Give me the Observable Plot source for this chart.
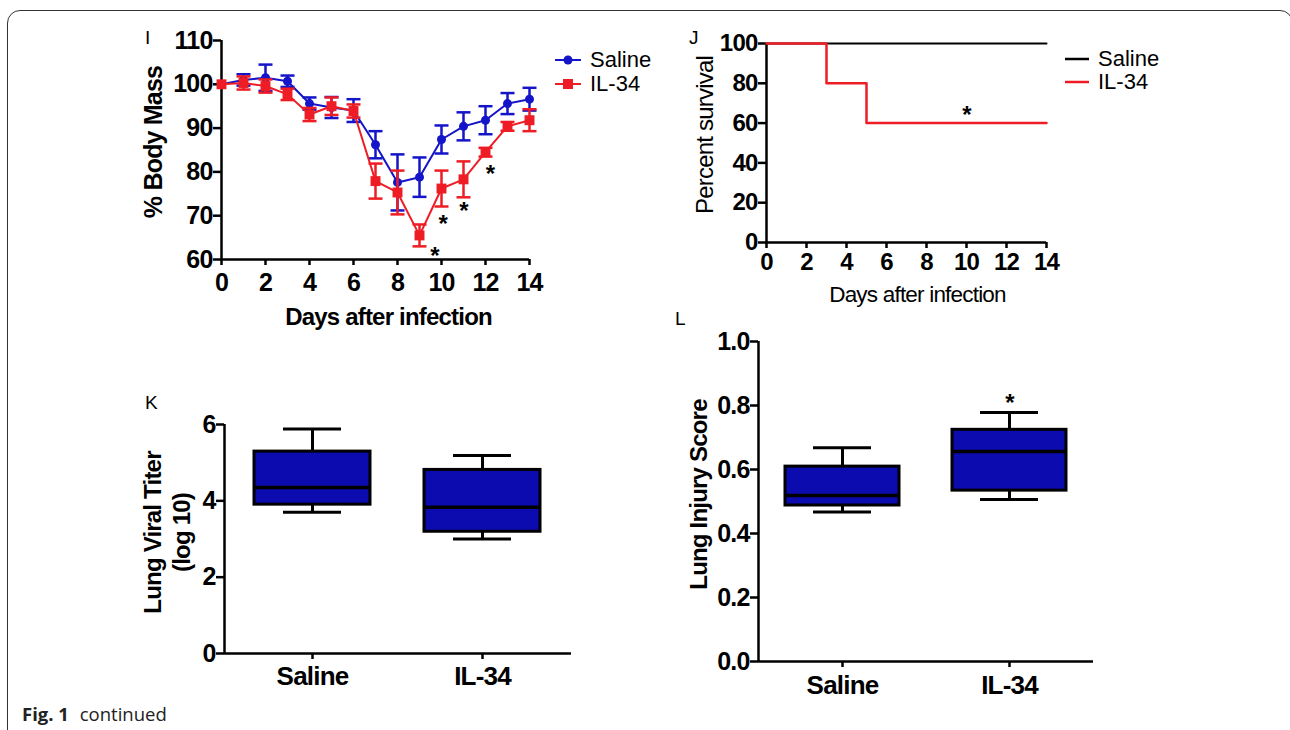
<!DOCTYPE html>
<html>
<head>
<meta charset="utf-8">
<script src="https://cdn.jsdelivr.net/npm/d3@7"></script>
<script src="https://cdn.jsdelivr.net/npm/@observablehq/plot@0.6"></script>
<style>
  html, body { margin: 0; padding: 0; background: #fff; }
  #root { position: relative; width: 1290px; height: 730px; overflow: hidden; background: #fff; font-family: "Liberation Sans", Arial, sans-serif; }
  #frame { position: absolute; left: 7px; top: 10px; width: 1286px; height: 800px; border: 1.4px solid #333; border-radius: 13px; box-sizing: border-box; }
  .panel-letter { position: absolute; font-size: 19px; color: #000; line-height: 1; }
  .legend { position: absolute; color: #000; line-height: 1; }
  .legend .row { position: absolute; display: flex; align-items: center; white-space: nowrap; height: 20px; }
  .legend span { line-height: 20px; }
  .legend svg { display: block; margin-right: 9px; }
  #caption { position: absolute; left: 22px; top: 701px; font-family: "Open Sans", sans-serif; font-size: 18.5px; color: #222; white-space: nowrap; }
  #caption b { font-weight: 700; margin-right: 6px; }
</style>
</head>
<body>
<div id="root">
  <div id="frame"></div>
  <div class="panel-letter" style="left:145px;top:28px;">I</div>
  <div class="panel-letter" style="left:689px;top:28px;">J</div>
  <div class="panel-letter" style="left:145px;top:393px;">K</div>
  <div class="panel-letter" style="left:675px;top:309px;">L</div>
  <div id="caption"><b>Fig. 1</b> continued</div>
</div>
<script>
// ---------- Panel I: % body mass ----------
const days = [0, 1, 2, 3, 4, 5, 6, 7, 8, 9, 10, 11, 12, 13, 14];
const salineMass = [100, 101, 101.5, 100.7, 95.6, 94.7, 94.0, 86.2, 77.6, 78.8, 87.4, 90.4, 91.8, 95.6, 96.6];
const salineErr  = [0, 1.3, 3.0, 1.3, 1.4, 2.4, 2.6, 3.1, 6.4, 4.5, 3.2, 3.2, 3.2, 2.4, 2.6];
const il34Mass   = [100, 100.3, 99.6, 97.7, 93.1, 95.0, 93.9, 77.9, 75.3, 65.5, 76.2, 78.3, 84.5, 90.4, 91.8];
const il34Err    = [0, 1.5, 1.5, 1.3, 1.5, 2.0, 1.5, 4.0, 5.0, 2.5, 4.1, 4.1, 1.0, 1.0, 2.5];
const massSigDay = [9.68, 10.06, 11.0, 12.2];
const massSigY   = [62.2, 69.5, 72.3, 80.9];
const massYTicks = [60, 70, 80, 90, 100, 110];
const dayTicks   = [0, 2, 4, 6, 8, 10, 12, 14];

// ---------- Panel J: survival ----------
const survSalineDays = [0, 14];
const survSaline     = [100, 100];
const survIL34Days   = [0, 3, 5, 14];
const survIL34       = [100, 80, 60, 60];
const survSigDay = [10];
const survSigY   = [67];
const survYTicks = [0, 20, 40, 60, 80, 100];

// ---------- Panel K: lung viral titer ----------
const groups = ["Saline", "IL-34"];
const titerMin = [3.7, 3.0];
const titerQ1  = [3.9, 3.19];
const titerMed = [4.35, 3.83];
const titerQ3  = [5.29, 4.81];
const titerMax = [5.88, 5.19];
const titerYTicks = [0, 2, 4, 6];

// ---------- Panel L: lung injury score ----------
const injMin = [0.467, 0.506];
const injQ1  = [0.4875, 0.534];
const injMed = [0.519, 0.656];
const injQ3  = [0.609, 0.724];
const injMax = [0.668, 0.778];
const injSigGroup = ["IL-34"];
const injSigY = [0.826];
const injYTicks = [0, 0.2, 0.4, 0.6, 0.8, 1.0];

const BLUE = "#1414c8";
const BOXBLUE = "#0b0bb0";
const RED = "#ee1c24";
const root = document.getElementById("root");
const FONT = '"Liberation Sans", Arial, sans-serif';
const baseStyle = `font-family:${FONT};font-size:25px;font-weight:bold;letter-spacing:-0.8px;background:transparent;overflow:visible;color:#000;`;

const capSymbol = {
  draw(ctx, size) {
    const w = Math.sqrt(size / Math.PI);
    ctx.moveTo(-w, 0);
    ctx.lineTo(w, 0);
  }
};

function place(svg, left, top) {
  svg.style.position = "absolute";
  svg.style.left = left + "px";
  svg.style.top = top + "px";
  root.appendChild(svg);
}

function axisLabel(text, opts) {
  return Plot.text([text], Object.assign({
    text: d => d, fill: "#000", fontSize: 24, lineHeight: 1.17,
    textAnchor: "middle", lineAnchor: "middle"
  }, opts));
}

// ---------- I ----------
const massData = days.map((d, i) => ({day: d, saline: salineMass[i], sErr: salineErr[i], il: il34Mass[i], iErr: il34Err[i]}));
const sMass = massData.filter(d => d.sErr > 0);
const iMass = massData.filter(d => d.iErr > 0);
const massSig = massSigDay.map((d, i) => ({day: d, y: massSigY[i]}));

const plotI = Plot.plot({
  width: 420, height: 310,
  marginLeft: 91, marginRight: 21, marginTop: 20, marginBottom: 71,
  style: baseStyle,
  x: {domain: [0, 14]},
  y: {domain: [60, 110]},
  marks: [
    Plot.ruleX([0], {strokeWidth: 2.5}),
    Plot.ruleY([60], {strokeWidth: 2.5}),
    Plot.axisY(massYTicks, {tickSize: 8, tickPadding: 1, strokeWidth: 2.5, label: null}),
    Plot.axisX(dayTicks, {tickSize: 6, tickPadding: 8, strokeWidth: 2.5, label: null}),
    // saline
    Plot.line(massData, {x: "day", y: "saline", stroke: BLUE, strokeWidth: 2}),
    Plot.ruleX(sMass, {x: "day", y1: d => d.saline - d.sErr, y2: d => d.saline + d.sErr, stroke: BLUE, strokeWidth: 2.5}),
    Plot.dot(sMass, {x: "day", y: d => d.saline + d.sErr, symbol: capSymbol, r: 7, stroke: BLUE, strokeWidth: 2.5}),
    Plot.dot(sMass, {x: "day", y: d => d.saline - d.sErr, symbol: capSymbol, r: 7, stroke: BLUE, strokeWidth: 2.5}),
    Plot.dot(massData, {x: "day", y: "saline", r: 4.5, fill: BLUE, stroke: null}),
    // IL-34
    Plot.line(massData, {x: "day", y: "il", stroke: RED, strokeWidth: 2}),
    Plot.ruleX(iMass, {x: "day", y1: d => d.il - d.iErr, y2: d => d.il + d.iErr, stroke: RED, strokeWidth: 2.5}),
    Plot.dot(iMass, {x: "day", y: d => d.il + d.iErr, symbol: capSymbol, r: 7, stroke: RED, strokeWidth: 2.5}),
    Plot.dot(iMass, {x: "day", y: d => d.il - d.iErr, symbol: capSymbol, r: 7, stroke: RED, strokeWidth: 2.5}),
    Plot.dot(massData, {x: "day", y: "il", r: 5.6, symbol: "square", fill: RED, stroke: null}),
    Plot.text(massSig, {x: "day", y: "y", text: () => "*", fontSize: 24, dy: 6, fill: "#000"}),
    axisLabel("% Body Mass", {frameAnchor: "left", rotate: -90, dx: -69, dy: -8, fontSize: 25}),
    axisLabel("Days after infection", {frameAnchor: "bottom", dx: 13, dy: 56})
  ]
});
place(plotI, 130, 20);

// ---------- J ----------
const survSalData = survSalineDays.map((d, i) => ({day: d, p: survSaline[i]}));
const survILData = survIL34Days.map((d, i) => ({day: d, p: survIL34[i]}));
const survSig = survSigDay.map((d, i) => ({day: d, y: survSigY[i]}));

const plotJ = Plot.plot({
  width: 390, height: 290,
  marginLeft: 86, marginRight: 24, marginTop: 23, marginBottom: 68,
  style: baseStyle,
  x: {domain: [0, 14]},
  y: {domain: [0, 100]},
  marks: [
    Plot.ruleX([0], {strokeWidth: 2.5}),
    Plot.ruleY([0], {strokeWidth: 2.5}),
    Plot.axisY(survYTicks, {tickSize: 8, tickPadding: 1, strokeWidth: 2.5, label: null, fontSize: 24}),
    Plot.axisX(dayTicks, {tickSize: 6, tickPadding: 4, strokeWidth: 2.5, label: null, fontSize: 24}),
    Plot.line(survSalData, {x: "day", y: "p", stroke: "#000", strokeWidth: 2, curve: "step-after"}),
    Plot.line(survILData, {x: "day", y: "p", stroke: RED, strokeWidth: 2.5, curve: "step-after"}),
    Plot.text(survSig, {x: "day", y: "y", text: () => "*", fontSize: 24, dy: 6, fill: "#000"}),
    axisLabel("Percent survival", {frameAnchor: "left", rotate: -90, dx: -63, dy: -8, fontWeight: "normal", fontSize: 24, letterSpacing: -0.3}),
    axisLabel("Days after infection", {frameAnchor: "bottom", dx: 11, dy: 51, fontWeight: "normal", fontSize: 22.5, letterSpacing: -0.3})
  ]
});
place(plotJ, 680, 20);

// ---------- box plot helper ----------
function boxPlot(stats, cfg) {
  const frameW = cfg.width - cfg.ml - cfg.mr;
  return Plot.plot({
    width: cfg.width, height: cfg.height,
    marginLeft: cfg.ml, marginRight: cfg.mr, marginTop: cfg.mt, marginBottom: cfg.mb,
    style: baseStyle,
    x: {domain: groups, paddingInner: cfg.pi, paddingOuter: cfg.po, align: 0.5},
    y: {domain: cfg.yDomain},
    marks: [
      Plot.ruleX(stats, {x: "g", y1: "q3", y2: "max", strokeWidth: 3}),
      Plot.ruleX(stats, {x: "g", y1: "min", y2: "q1", strokeWidth: 3}),
      Plot.tickY(stats, {x: "g", y: "max", strokeWidth: 3, inset: cfg.capInset}),
      Plot.tickY(stats, {x: "g", y: "min", strokeWidth: 3, inset: cfg.capInset}),
      Plot.barY(stats, {x: "g", y1: "q1", y2: "q3", fill: BOXBLUE, stroke: "#000", strokeWidth: 3}),
      Plot.tickY(stats, {x: "g", y: "med", strokeWidth: 3.5}),
      Plot.ruleY([cfg.yDomain[0]], {strokeWidth: 2.5}),
      // left axis line (rule with no x sits at the frame centre; shift it to the frame's left edge)
      Plot.ruleX([null], {x: null, strokeWidth: 2.5, dx: -frameW / 2}),
      Plot.axisY(cfg.yTicks, {tickSize: 8, tickPadding: 1, strokeWidth: 2.5, label: null, tickFormat: cfg.fmt}),
      Plot.axisX({tickSize: 6, tickPadding: cfg.xPad, strokeWidth: 2.5, label: null, fontSize: 26}),
      ...(cfg.extra || [])
    ]
  });
}

// ---------- K ----------
const titerStats = groups.map((g, i) => ({g, min: titerMin[i], q1: titerQ1[i], med: titerMed[i], q3: titerQ3[i], max: titerMax[i]}));
const plotK = boxPlot(titerStats, {
  width: 450, height: 310, ml: 94, mr: 9, mt: 34, mb: 47,
  pi: 0.316, po: 0.173, yDomain: [0, 6], yTicks: titerYTicks, fmt: d => String(d), capInset: 29, xPad: 7,
  extra: [axisLabel("Lung Viral Titer\n(log 10)", {frameAnchor: "left", rotate: -90, dx: -58, dy: -6.5})]
});
place(plotK, 130, 390);

// ---------- L ----------
const injStats = groups.map((g, i) => ({g, min: injMin[i], q1: injQ1[i], med: injMed[i], q3: injQ3[i], max: injMax[i]}));
const injSig = injSigGroup.map((g, i) => ({g, y: injSigY[i]}));
const plotL = boxPlot(injStats, {
  width: 430, height: 380, ml: 88, mr: 7, mt: 21, mb: 39,
  pi: 0.32, po: 0.159, yDomain: [0, 1], yTicks: injYTicks, fmt: d3.format(".1f"), capInset: 28, xPad: 8,
  extra: [
    Plot.text(injSig, {x: "g", y: "y", text: () => "*", fontSize: 24, dy: 6, fill: "#000"}),
    axisLabel("Lung Injury Score", {frameAnchor: "left", rotate: -90, dx: -61, dy: -7})
  ]
});
place(plotL, 670, 320);

// ---------- legends ----------
function legend(items, left, top, rowGap, fontSize) {
  const div = document.createElement("div");
  div.className = "legend";
  div.style.left = left + "px";
  div.style.top = top + "px";
  div.style.fontSize = fontSize + "px";
  items.forEach((it, i) => {
    const row = document.createElement("div");
    row.className = "row";
    row.style.top = (i * rowGap) + "px";
    let marker = "";
    if (it.symbol === "circle") marker = `<circle cx="13" cy="7" r="4.5" fill="${it.color}"/>`;
    if (it.symbol === "square") marker = `<rect x="8" y="2" width="10" height="10" fill="${it.color}"/>`;
    row.innerHTML = `<svg width="${it.w}" height="14"><line x1="0" y1="7" x2="${it.w}" y2="7" stroke="${it.color}" stroke-width="${it.sw}"/>${marker}</svg><span>${it.label}</span>`;
    div.appendChild(row);
  });
  root.appendChild(div);
}
legend([
  {label: groups[0], color: BLUE, symbol: "circle", sw: 2, w: 26},
  {label: groups[1], color: RED, symbol: "square", sw: 2, w: 26}
], 555, 50, 23.5, 22);
legend([
  {label: groups[0], color: "#000", symbol: null, sw: 2.5, w: 24},
  {label: groups[1], color: RED, symbol: null, sw: 2.5, w: 24}
], 1065, 49, 23, 22);
</script>
</body>
</html>
